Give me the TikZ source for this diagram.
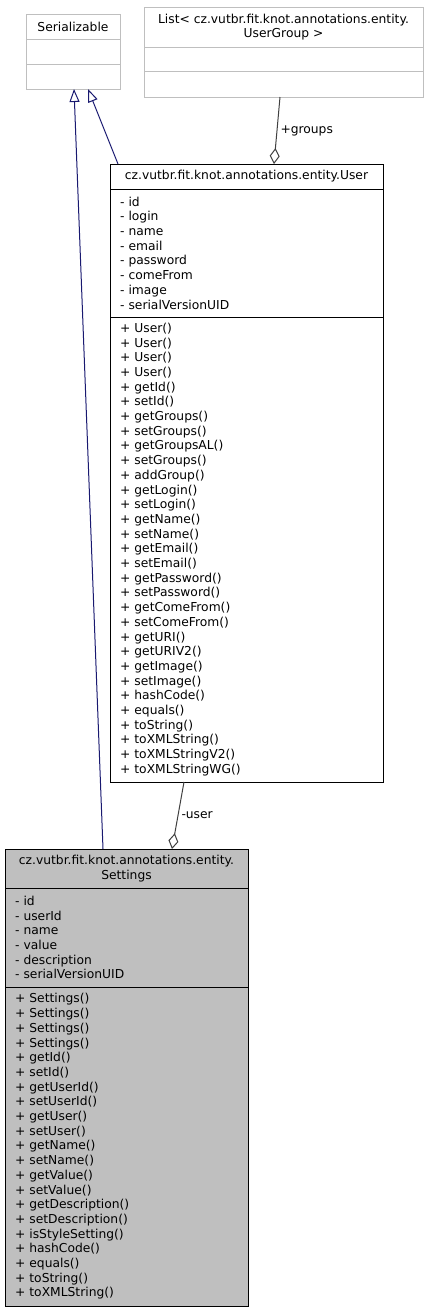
\documentclass[tikz,border=0pt]{standalone}
\usepackage{fontspec}
\setmainfont{DejaVu Sans}
\usepackage{xcolor}
\usetikzlibrary{arrows.meta,positioning}
\definecolor{edgeblue}{HTML}{191970}
\definecolor{edgegray}{HTML}{404040}
\definecolor{boxgray}{HTML}{BFBFBF}
\definecolor{classfill}{HTML}{BFBFBF}
\newcommand{\umlfont}{\fontsize{12.3}{14.7}\selectfont}
\tikzset{
  classhead/.style={rectangle,draw,line width=1pt,outer sep=0pt,inner xsep=4pt,inner ysep=2pt,minimum width=#1,align=center,font=\umlfont},
  members/.style={rectangle,draw,line width=1pt,outer sep=0pt,inner xsep=10pt,inner ysep=2pt,text width=#1,align=left,font=\umlfont},
  emptysec/.style={rectangle,draw,line width=1pt,outer sep=0pt,minimum width=#1},
  inherit/.style={-{Triangle[open,length=13pt,width=10pt]},line width=1pt,draw=edgeblue},
  aggr/.style={-{Diamond[open,length=16pt,width=10pt]},line width=1pt,draw=edgegray},
  edgelabel/.style={font=\umlfont,inner sep=3pt}
}

\begin{document}
\begin{tikzpicture}[x=1pt,y=-1pt]
  \useasboundingbox (0,0) rectangle (428,1312);
  % Serializable
  \node[classhead=94pt, draw=boxgray, minimum height=25pt, anchor=north west] (serH) at (26,14) {Serializable};
  \node[emptysec=94pt, draw=boxgray, minimum height=25pt, below=0pt of serH] (serA) {};
  \node[emptysec=94pt, draw=boxgray, minimum height=25pt, below=0pt of serA] (serM) {};
  % List< UserGroup >
  \node[classhead=279pt, draw=boxgray, minimum height=40pt, anchor=north west] (lstH) at (144,7) {List< cz.vutbr.fit.knot.annotations.entity.\\UserGroup >};
  \node[emptysec=279pt, draw=boxgray, minimum height=24pt, below=0pt of lstH] (lstA) {};
  \node[emptysec=279pt, draw=boxgray, minimum height=26pt, below=0pt of lstA] (lstM) {};
  % User
  \node[classhead=273pt, minimum height=25pt, anchor=north west] (usrH) at (110,164) {cz.vutbr.fit.knot.annotations.entity.User};
  \node[members=253pt, minimum height=128pt, below=0pt of usrH] (usrA) {- id\\- login\\- name\\- email\\- password\\- comeFrom\\- image\\- serialVersionUID};
  \node[members=253pt, minimum height=465pt, below=0pt of usrA] (usrM) {+ User()\\+ User()\\+ User()\\+ User()\\+ getId()\\+ setId()\\+ getGroups()\\+ setGroups()\\+ getGroupsAL()\\+ setGroups()\\+ addGroup()\\+ getLogin()\\+ setLogin()\\+ getName()\\+ setName()\\+ getEmail()\\+ setEmail()\\+ getPassword()\\+ setPassword()\\+ getComeFrom()\\+ setComeFrom()\\+ getURI()\\+ getURIV2()\\+ getImage()\\+ setImage()\\+ hashCode()\\+ equals()\\+ toString()\\+ toXMLString()\\+ toXMLStringV2()\\+ toXMLStringWG()};
  % Settings
  \node[classhead=243pt, fill=classfill, minimum height=39pt, anchor=north west] (setH) at (5,849) {cz.vutbr.fit.knot.annotations.entity.\\Settings};
  \node[members=223pt, fill=classfill, minimum height=99pt, below=0pt of setH] (setA) {- id\\- userId\\- name\\- value\\- description\\- serialVersionUID};
  \node[members=223pt, fill=classfill, minimum height=319pt, below=0pt of setA] (setM) {+ Settings()\\+ Settings()\\+ Settings()\\+ Settings()\\+ getId()\\+ setId()\\+ getUserId()\\+ setUserId()\\+ getUser()\\+ setUser()\\+ getName()\\+ setName()\\+ getValue()\\+ setValue()\\+ getDescription()\\+ setDescription()\\+ isStyleSetting()\\+ hashCode()\\+ equals()\\+ toString()\\+ toXMLString()};
  % connectors
  \draw[inherit] ([xshift=98pt]setH.north west) -- ([xshift=48pt]serM.south west);
  \draw[inherit] ([xshift=8pt]usrH.north west) -- ([xshift=62pt]serM.south west);
  \draw[aggr] ([xshift=136pt]lstM.south west) -- node[edgelabel, right]{+groups} ([xshift=164pt]usrH.north west);
  \draw[aggr] ([xshift=74pt]usrM.south west) -- node[edgelabel, right]{-user} ([xshift=167pt]setH.north west);
\end{tikzpicture}
\end{document}
